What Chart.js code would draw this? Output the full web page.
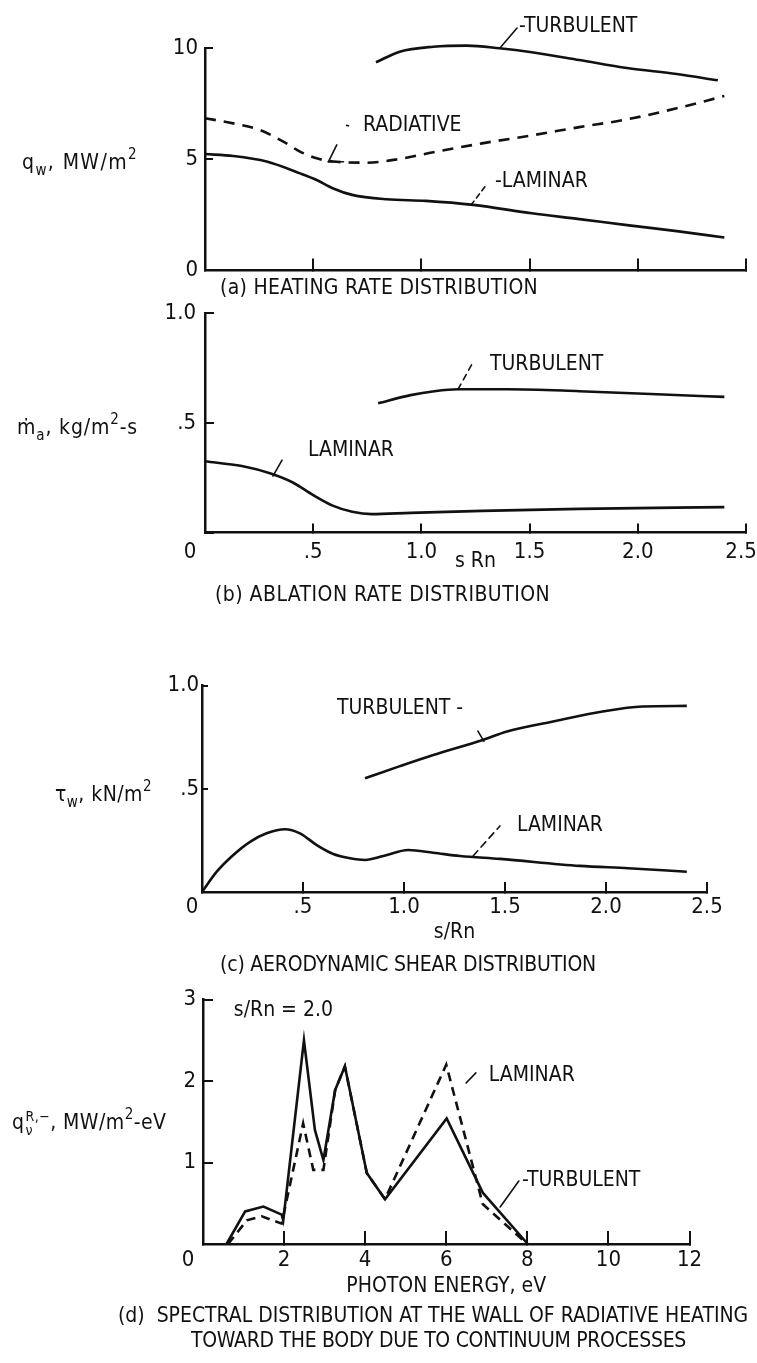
<!DOCTYPE html>
<html><head><meta charset="utf-8">
<script src="https://cdn.jsdelivr.net/npm/chart.js@4.4.0/dist/chart.umd.min.js"></script>
<style>
html,body{margin:0;padding:0;background:#fff;}
body{width:757px;height:1363px;position:relative;overflow:hidden;font-family:'Liberation Sans Narrow','DejaVu Sans Condensed','Arial Narrow',sans-serif;color:#111;}
canvas{position:absolute;left:0;}
.t{position:absolute;white-space:nowrap;font-size:21px;line-height:1;transform:translateY(-50%);}
.t sub{font-size:15px;vertical-align:-6px;line-height:0;}
.t sup{font-size:15px;vertical-align:10px;line-height:0;}
.st{display:inline-block;vertical-align:middle;line-height:1;font-size:14px;text-align:left;margin-left:1px;}
.st span{display:block;}
</style></head>
<body>
<canvas id="ca" width="757" height="300" style="top:0px"></canvas>
<canvas id="cb" width="757" height="290" style="top:290px"></canvas>
<canvas id="cc" width="757" height="360" style="top:600px"></canvas>
<canvas id="cd" width="757" height="330" style="top:975px"></canvas>

<div class="t" style="left:22px;top:162px" data-w="116">q<sub>w</sub>, MW/m<sup>2</sup></div>
<div class="t" style="left:17px;top:427px" data-w="121">ṁ<sub>a</sub>, kg/m<sup>2</sup>-s</div>
<div class="t" style="left:55px;top:794px" data-w="97">τ<sub>w</sub>, kN/m<sup>2</sup></div>
<div class="t" style="left:12px;top:1123px" data-w="155">q<span class="st"><span>R,−</span><span>ν</span></span>, MW/m<sup>2</sup>-eV</div>

<div class="t" style="left:220px;top:287px" data-w="318">(a) HEATING RATE DISTRIBUTION</div>
<div class="t" style="left:215px;top:594px" data-w="335">(b) ABLATION RATE DISTRIBUTION</div>
<div class="t" style="left:220px;top:964px" data-w="376">(c) AERODYNAMIC SHEAR DISTRIBUTION</div>
<div class="t" style="left:118px;top:1315px" data-w="630">(d)&nbsp; SPECTRAL DISTRIBUTION AT THE WALL OF RADIATIVE HEATING</div>
<div class="t" style="left:191px;top:1340px" data-w="495">TOWARD THE BODY DUE TO CONTINUUM PROCESSES</div>

<script>
// ---------------- data ----------------
// (a) heating rate, q_w (MW/m^2) vs s/Rn
const aTurbS = [0.79, 0.90, 1.055, 1.21, 1.36, 1.51, 1.73, 1.95, 2.18, 2.37];
const aTurbQ = [9.37, 9.85, 10.07, 10.12, 10.0, 9.82, 9.47, 9.11, 8.84, 8.56];
const aRadS  = [0, 0.131, 0.254, 0.362, 0.439, 0.516, 0.593, 0.747, 0.90, 1.055, 1.28, 1.51, 1.73, 1.95, 2.18, 2.40];
const aRadQ  = [6.85, 6.62, 6.32, 5.80, 5.35, 5.05, 4.90, 4.85, 5.02, 5.32, 5.72, 6.08, 6.45, 6.80, 7.30, 7.85];
const aLamS  = [0, 0.131, 0.285, 0.439, 0.516, 0.59, 0.68, 0.84, 1.02, 1.24, 1.51, 1.73, 1.95, 2.18, 2.40];
const aLamQ  = [5.24, 5.15, 4.90, 4.37, 4.07, 3.70, 3.40, 3.20, 3.13, 2.95, 2.57, 2.31, 2.04, 1.77, 1.48];
// (b) ablation rate, m_a (kg/m^2-s)
const bTurbS = [0.80, 0.95, 1.06, 1.17, 1.40, 1.73, 2.06, 2.40];
const bTurbM = [0.589, 0.626, 0.644, 0.653, 0.653, 0.644, 0.631, 0.618];
const bLamS  = [0, 0.17, 0.30, 0.41, 0.50, 0.59, 0.68, 0.77, 0.95, 1.28, 1.73, 2.40];
const bLamM  = [0.325, 0.303, 0.270, 0.226, 0.171, 0.123, 0.095, 0.084, 0.090, 0.099, 0.108, 0.116];
// (c) aerodynamic shear, tau_w (kN/m^2)
const cTurbS = [0.807, 0.98, 1.145, 1.39, 1.51, 1.75, 1.99, 2.18, 2.40];
const cTurbT = [0.551, 0.61, 0.664, 0.737, 0.778, 0.829, 0.876, 0.899, 0.902];
const cLamS  = [0, 0.073, 0.155, 0.238, 0.32, 0.411, 0.485, 0.568, 0.65, 0.733, 0.807, 0.898, 1.021, 1.145, 1.277, 1.475, 1.87, 2.11, 2.40];
const cLamT  = [0, 0.098, 0.179, 0.243, 0.284, 0.304, 0.284, 0.227, 0.184, 0.163, 0.155, 0.174, 0.203, 0.190, 0.174, 0.160, 0.126, 0.115, 0.098];
// (d) spectral distribution vs photon energy (eV)
const dTurbE = [0.58, 1.04, 1.49, 1.94, 1.98, 2.49, 2.76, 2.97, 3.26, 3.50, 4.04, 4.49, 6.01, 6.9, 8.01];
const dTurbQ = [0, 0.40, 0.46, 0.36, 0.29, 2.50, 1.40, 1.03, 1.89, 2.18, 0.87, 0.55, 1.54, 0.63, 0];
const dLamE  = [0.62, 1.08, 1.45, 1.94, 2.47, 2.72, 2.97, 3.26, 3.50, 4.04, 4.49, 6.0, 6.9, 8.0];
const dLamQ  = [0, 0.29, 0.34, 0.25, 1.48, 0.91, 0.91, 1.89, 2.18, 0.87, 0.55, 2.20, 0.49, 0];
// tick labels
const sTicks  = ['0', '.5', '1.0', '1.5', '2.0', '2.5'];
const aYTicks = ['0', '5', '10'];
const bYTicks = ['', '.5', '1.0'];
const cYTicks = ['', '.5', '1.0'];
const dYTicks = ['', '1', '2', '3'];
const dXTicks = ['0', '2', '4', '6', '8', '10', '12'];

// ---------------- rendering ----------------
const FONT = "'Liberation Sans Narrow','DejaVu Sans Condensed','Arial Narrow',sans-serif";
const INK = '#111';
Chart.defaults.font.family = FONT;
Chart.defaults.color = INK;

const pts = (xs, ys) => xs.map((v, i) => ({x: v, y: ys[i]}));

const annotPlugin = {
  id: 'annot',
  afterDatasetsDraw(chart, args, opts) {
    const {ctx} = chart; const xs = chart.scales.x, ys = chart.scales.y;
    ctx.save();
    ctx.fillStyle = INK; ctx.strokeStyle = INK; ctx.lineCap = 'round';
    for (const l of opts.leaders || []) {
      ctx.lineWidth = 1.6; ctx.setLineDash(l.dash || []);
      ctx.beginPath();
      ctx.moveTo(xs.getPixelForValue(l.x1), ys.getPixelForValue(l.y1));
      ctx.lineTo(xs.getPixelForValue(l.x2), ys.getPixelForValue(l.y2));
      ctx.stroke();
    }
    ctx.setLineDash([]);
    ctx.font = (opts.size || 21) + 'px ' + FONT;
    if ('letterSpacing' in ctx) ctx.letterSpacing = (opts.spacing ?? 0) + 'px';
    ctx.textBaseline = 'middle'; ctx.textAlign = 'left';
    for (const l of opts.labels || []) ctx.fillText(l.text, xs.getPixelForValue(l.x), ys.getPixelForValue(l.y));
    ctx.restore();
  }
};

function makeChart(id, c) {
  const cv = document.getElementById(id);
  const top = parseFloat(cv.style.top);
  const W = cv.width, H = cv.height;
  const border = {display: true, color: INK, width: 2.5};
  const grid = {display: true, drawOnChartArea: false, drawTicks: true, color: INK, lineWidth: 2};
  const zeroPad = s => { s.paddingLeft = s.paddingRight = s.paddingTop = s.paddingBottom = 0; };
  const n = c.xLabels.length;
  return new Chart(cv, {
    type: 'line',
    data: {datasets: c.datasets.map(d => ({clip: false, ...d}))},
    options: {
      responsive: false, animation: false, events: [],
      layout: {padding: {left: 0, right: W - c.area.right, top: c.area.top - top, bottom: top + H - c.area.bottom - c.xAxisH}},
      plugins: {legend: {display: false}, tooltip: {enabled: false}, title: {display: false}, annot: c.annot},
      elements: {point: {radius: 0}, line: {borderColor: INK, borderWidth: 2.6, fill: false}},
      scales: {
        x: {
          type: 'linear', min: 0, max: c.xMax,
          afterFit: s => { s.height = c.xAxisH; zeroPad(s); },
          border, grid: {...grid, tickLength: -c.xTick},
          ticks: {
            display: c.xShow, stepSize: c.xStep, autoSkip: false, maxRotation: 0, minRotation: 0,
            padding: c.xPad + c.xTick, font: {size: 22}, color: INK,
            callback: (v, i) => {
              if (i === 0 && c.zeroSpacer) return c.xLabels[0] + c.zeroSpacer;
              if (i === n - 1 && c.endSpacer) return c.xLabels[i] + c.endSpacer;
              return c.xLabels[i];
            }
          },
          title: c.xTitle ? {display: true, text: c.xTitle, font: {size: 21}, color: INK, padding: {top: 0, bottom: 0}} : {display: false}
        },
        y: {
          type: 'linear', min: 0, max: c.yMax,
          afterFit: s => { s.width = c.area.left; zeroPad(s); },
          border, grid: {...grid, tickLength: -c.yTick},
          ticks: {stepSize: c.yStep, autoSkip: false, padding: c.yPad + c.yTick, font: {size: 22}, color: INK,
                  callback: (v, i) => c.yLabels[i]}
        }
      }
    },
    plugins: [annotPlugin]
  });
}

const mono = {cubicInterpolationMode: 'monotone'};

makeChart('ca', {
  area: {left: 205, right: 746, top: 48.3, bottom: 270.4}, xAxisH: 0,
  xMax: 2.5, xStep: 0.5, xLabels: sTicks, xShow: false, xTick: 12, xPad: 0,
  yMax: 10, yStep: 5, yLabels: aYTicks, yTick: 8, yPad: 7,
  datasets: [
    {data: pts(aTurbS, aTurbQ), ...mono},
    {data: pts(aRadS, aRadQ), borderDash: [11, 8], ...mono},
    {data: pts(aLamS, aLamQ), ...mono}
  ],
  annot: {
    labels: [
      {text: '-TURBULENT', x: 1.451, y: 10.96},
      {text: 'RADIATIVE', x: 0.730, y: 6.52},
      {text: '-LAMINAR', x: 1.340, y: 4.02}
    ],
    leaders: [
      {x1: 1.363, y1: 10.01, x2: 1.442, y2: 10.91},
      {x1: 0.570, y1: 4.89, x2: 0.609, y2: 5.65},
      {x1: 0.570, y1: 4.89, x2: 0.640, y2: 4.89},
      {x1: 0.655, y1: 6.53, x2: 0.663, y2: 6.51},
      {x1: 1.229, y1: 2.94, x2: 1.303, y2: 3.89, dash: [5, 4]}
    ]
  }
});

makeChart('cb', {
  area: {left: 205, right: 746, top: 313, bottom: 532.6}, xAxisH: 41.9,
  xMax: 2.5, xStep: 0.5, xLabels: sTicks, xShow: true, xTick: 9, xPad: 6, zeroSpacer: '\u2003\u2002', endSpacer: '\u2002',
  xTitle: 's Rn',
  yMax: 1, yStep: 0.5, yLabels: bYTicks, yTick: 9, yPad: 9,
  datasets: [
    {data: pts(bTurbS, bTurbM), ...mono},
    {data: pts(bLamS, bLamM), ...mono}
  ],
  annot: {
    labels: [
      {text: 'TURBULENT', x: 1.317, y: 0.765},
      {text: 'LAMINAR', x: 0.476, y: 0.374}
    ],
    leaders: [
      {x1: 1.169, y1: 0.652, x2: 1.234, y2: 0.768, dash: [6, 5]},
      {x1: 0.314, y1: 0.257, x2: 0.356, y2: 0.330}
    ]
  }
});

makeChart('cc', {
  area: {left: 202, right: 707, top: 685.7, bottom: 891.9}, xAxisH: 53.5,
  xMax: 2.5, xStep: 0.5, xLabels: sTicks, xShow: true, xTick: 10, xPad: 2, zeroSpacer: '\u2003',
  xTitle: 's/Rn',
  yMax: 1, yStep: 0.5, yLabels: cYTicks, yTick: 6, yPad: 3,
  datasets: [
    {data: pts(cTurbS, cTurbT), ...mono},
    {data: pts(cLamS, cLamT), ...mono}
  ],
  annot: {
    labels: [
      {text: 'TURBULENT -', x: 0.668, y: 0.888},
      {text: 'LAMINAR', x: 1.559, y: 0.321}
    ],
    leaders: [
      {x1: 1.366, y1: 0.78, x2: 1.396, y2: 0.73},
      {x1: 1.342, y1: 0.174, x2: 1.475, y2: 0.320, dash: [7, 5]}
    ]
  }
});

makeChart('cd', {
  area: {left: 203, right: 689.5, top: 999.5, bottom: 1244}, xAxisH: 55,
  xMax: 12, xStep: 2, xLabels: dXTicks, xShow: true, xTick: 13, xPad: 3, zeroSpacer: '\u2003\u2002',
  xTitle: 'PHOTON ENERGY, eV',
  yMax: 3, yStep: 1, yLabels: dYTicks, yTick: 10, yPad: 7,
  datasets: [
    {data: pts(dTurbE, dTurbQ)},
    {data: pts(dLamE, dLamQ), borderDash: [9, 6]}
  ],
  annot: {
    labels: [
      {text: 's/Rn = 2.0', x: 0.76, y: 2.86},
      {text: 'LAMINAR', x: 7.05, y: 2.07},
      {text: '-TURBULENT', x: 7.87, y: 0.778}
    ],
    leaders: [
      {x1: 6.49, y1: 1.975, x2: 6.73, y2: 2.10},
      {x1: 7.33, y1: 0.454, x2: 7.79, y2: 0.773}
    ]
  }
});

// fit html labels to the reference widths
document.querySelectorAll('[data-w]').forEach(el => {
  const target = +el.dataset.w;
  el.style.letterSpacing = '0px';
  const w = el.getBoundingClientRect().width;
  const n = el.textContent.length;
  el.style.letterSpacing = ((target - w) / n).toFixed(2) + 'px';
});
</script>
</body></html>
